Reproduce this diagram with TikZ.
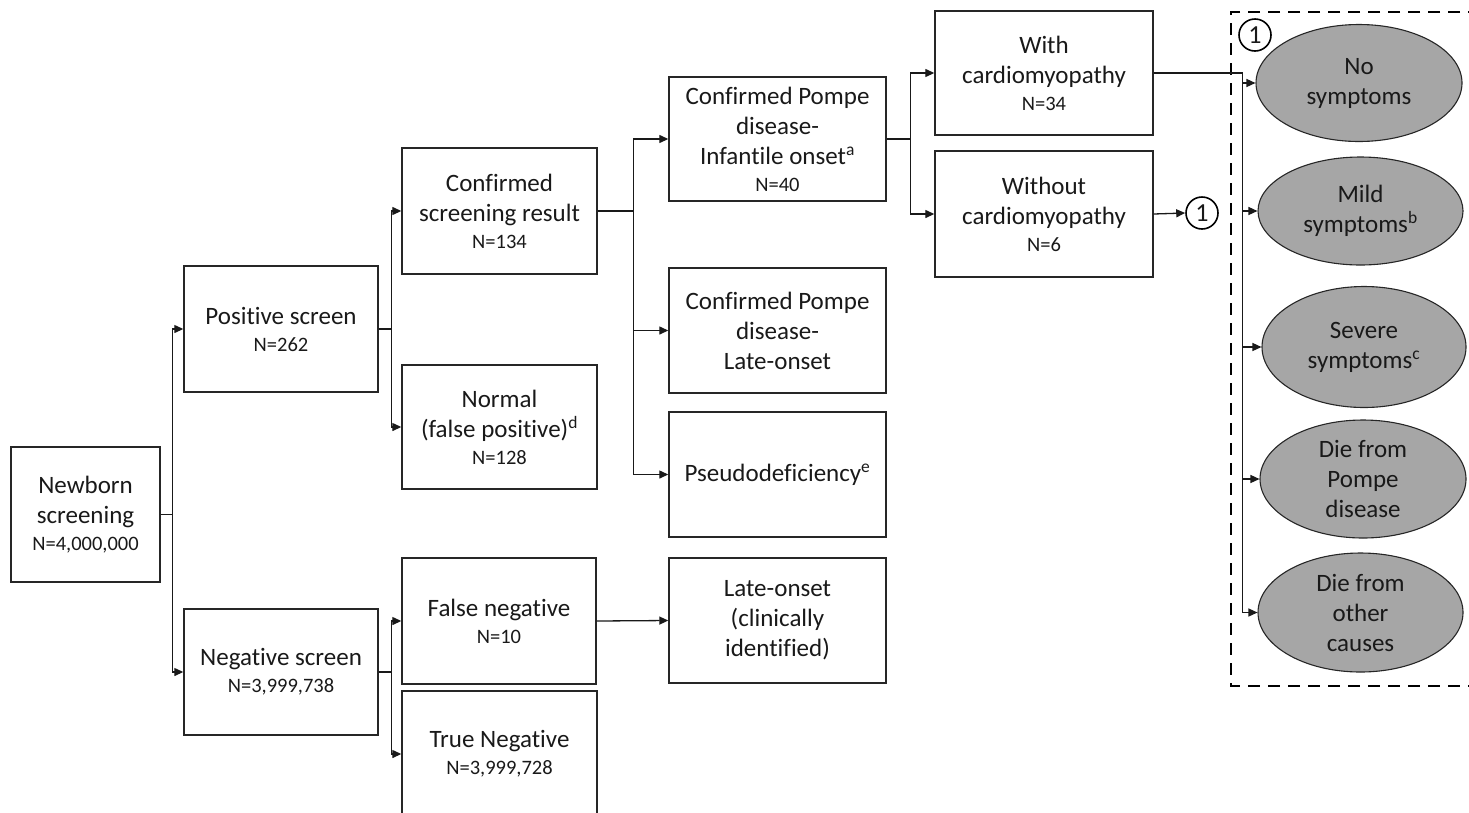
\documentclass[tikz,border=0pt]{standalone}
\usepackage{fontspec}
\setmainfont{Carlito}[Ligatures=NoCommon]
\usetikzlibrary{arrows.meta,shapes.geometric,calc}
\newcommand{\nn}[1]{{\fontsize{20.5}{24}\selectfont #1}}
\definecolor{ellgray}{RGB}{166,166,166}
\definecolor{txt}{RGB}{25,25,25}
\tikzset{
  box/.style={draw=black!85, line width=1.4pt, rectangle, align=center, text=txt,
    font=\fontsize{25}{30}\selectfont, inner sep=2pt},
  ell/.style={draw=black!85, line width=1.1pt, ellipse, fill=ellgray, align=center, text=txt,
    font=\fontsize{25}{30}\selectfont, inner sep=0pt},
  circnum/.style={draw=black, line width=1.6pt, circle, minimum size=32pt, inner sep=0pt,
    font=\fontsize{26}{30}\selectfont, text=txt},
  conn/.style={draw=black!90, line width=1.3pt},
  arr/.style={conn, -{Triangle[length=9pt,width=8pt]}},
}
\begin{document}
\begin{tikzpicture}[x=1pt,y=-1pt]
\useasboundingbox (0,0) rectangle (1469,812);
% boxes
\node[box, minimum width=149pt, minimum height=135pt] (nb) at (85.5,514.5)
  {Newborn\\screening\\[-3pt]\nn{N=4,000,000}};
\node[box, minimum width=194pt, minimum height=126pt] (pos) at (281,329)
  {Positive screen\\[-3pt]\nn{N=262}};
\node[box, minimum width=194pt, minimum height=126pt] (neg) at (281,672)
  {Negative screen\\[-3pt]\nn{N=3,999,738}};
\node[box, minimum width=195pt, minimum height=126pt] (csr) at (499.5,211)
  {Confirmed\\screening result\\[-3pt]\nn{N=134}};
\node[box, minimum width=195pt, minimum height=124pt] (nor) at (499.5,427)
  {Normal\\(false positive)\textsuperscript{d}\\[-3pt]\nn{N=128}};
\node[box, minimum width=194pt, minimum height=126pt] (fn) at (499,621)
  {False negative\\[-3pt]\nn{N=10}};
\node[box, minimum width=195pt, minimum height=126pt] (tn) at (499.5,754)
  {True Negative\\[-3pt]\nn{N=3,999,728}};
\node[box, minimum width=217pt, minimum height=124pt] (inf) at (777.5,139)
  {Confirmed Pompe\\disease-\\Infantile onset\textsuperscript{a}\\[-3pt]\nn{N=40}};
\node[box, minimum width=217pt, minimum height=125pt] (lo) at (777.5,330.5)
  {Confirmed Pompe\\disease-\\Late-onset};
\node[box, minimum width=217pt, minimum height=125pt] (pd) at (777.5,474.5)
  {Pseudodeficiency\textsuperscript{e}};
\node[box, minimum width=217pt, minimum height=125pt] (loc) at (777.5,620.5)
  {Late-onset\\(clinically\\identified)};
\node[box, minimum width=218pt, minimum height=124pt] (with) at (1044,73)
  {With\\cardiomyopathy\\[-3pt]\nn{N=34}};
\node[box, minimum width=218pt, minimum height=126pt] (wo) at (1044,214)
  {Without\\cardiomyopathy\\[-3pt]\nn{N=6}};
\node[circnum] (c1) at (1202,213) {1};
% dashed group
\draw[line width=2.6pt, dash pattern=on 12pt off 8pt] (1480,12) -- (1231,12) -- (1231,686) -- (1480,686);
\node[circnum] (c2) at (1255,35) {1};
% ellipses
\node[ell, minimum width=206pt, minimum height=117pt] (e1) at (1359,83) {No\\symptoms};
\node[ell, minimum width=205pt, minimum height=108pt] (e2) at (1360.5,211) {Mild\\symptoms\textsuperscript{b}};
\node[ell, minimum width=204pt, minimum height=121pt] (e3) at (1364,347) {Severe\\symptoms\textsuperscript{c}};
\node[ell, minimum width=206pt, minimum height=118pt] (e4) at (1363,479) {Die from\\Pompe\\disease};
\node[ell, minimum width=205pt, minimum height=119pt] (e5) at (1360.5,612.5) {Die from\\other\\causes};
% connectors
\draw[arr] (nb.east) -- ++(12,0) |- (pos.west);
\draw[arr] (nb.east) -- ++(12,0) |- (neg.west);
\draw[arr] (pos.east) -- ++(13,0) |- (csr.west);
\draw[arr] (pos.east) -- ++(13,0) |- (nor.west);
\draw[arr] (neg.east) -- ++(13,0) |- (fn.west);
\draw[arr] (neg.east) -- ++(13,0) |- (tn.west);
\draw[arr] (csr.east) -- ++(36,0) |- (inf.west);
\draw[arr] (csr.east) -- ++(36,0) |- (lo.west);
\draw[arr] (csr.east) -- ++(36,0) |- (pd.west);
\draw[arr] (inf.east) -- ++(24,0) |- (with.west);
\draw[arr] (inf.east) -- ++(24,0) |- (wo.west);
\draw[arr] (fn.east) -- (loc.west);
\draw[arr] (wo.east) -- (c1.west);
\coordinate (tr) at ($(with.east)+(89,0)$);
\draw[conn] (with.east) -- (tr) -- (tr |- e5.west);
\foreach \e in {e1,e2,e3,e4,e5} {
  \draw[arr] (tr |- \e.west) -- (\e.west);
}
\end{tikzpicture}
\end{document}
